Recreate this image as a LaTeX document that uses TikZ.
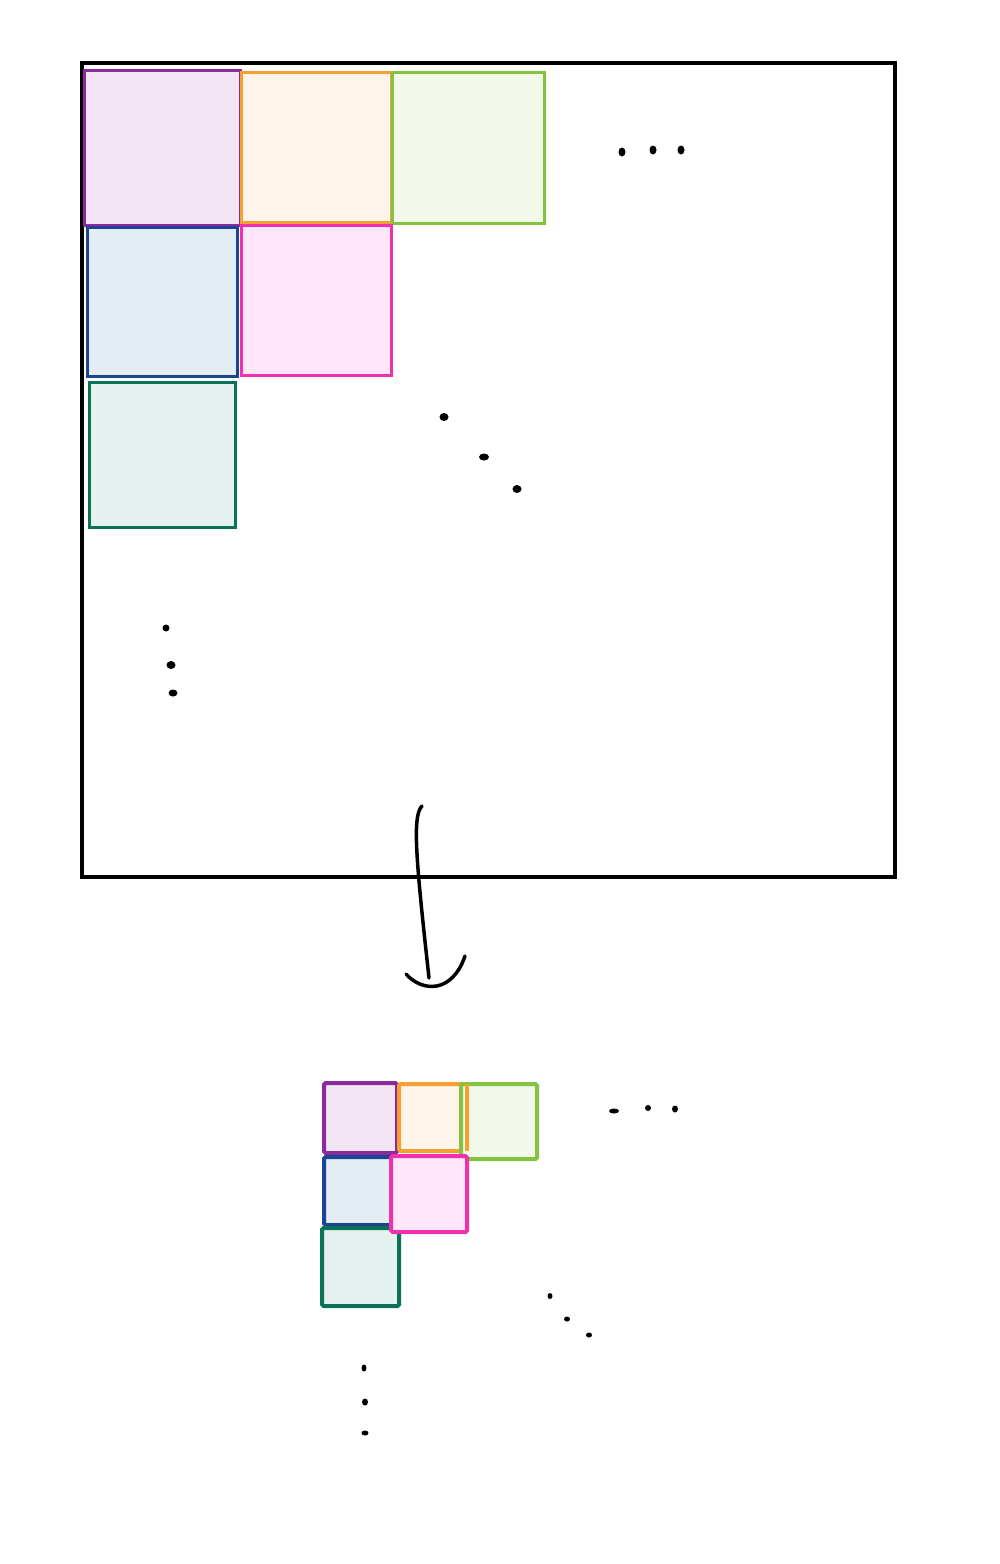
\documentclass[tikz,border=0pt]{standalone}
\usepackage{xcolor}
\definecolor{purpleline}{HTML}{8B2A9B}\definecolor{purplefill}{HTML}{F2E6F4}
\definecolor{orangeline}{HTML}{F5A030}\definecolor{orangefill}{HTML}{FEF4EA}
\definecolor{greenline}{HTML}{82C341}\definecolor{greenfill}{HTML}{F2F8EA}
\definecolor{blueline}{HTML}{1A4593}\definecolor{bluefill}{HTML}{E4ECF4}
\definecolor{pinkline}{HTML}{F030B0}\definecolor{pinkfill}{HTML}{FFE6F8}
\definecolor{tealline}{HTML}{0B7355}\definecolor{tealfill}{HTML}{E4F1EE}

\begin{document}
\begin{tikzpicture}[
            x=0.5pt, y=-0.5pt,
            Block/.style={draw, anchor=north west, inner sep=0pt, outer sep=0pt, line width=1.5pt},
            SmallBlock/.style={Block, line width=2pt, rounded corners=0.8pt},
            Dot/.style={fill=black, draw=none},
            ]
            \useasboundingbox (0,0) rectangle (1000,1564);

            % big matrix
            \node [draw, line width=2pt, anchor=north west, inner sep=0pt, outer sep=0pt, minimum width=406.5pt, minimum height=407pt] (frame) at (82,63) {};

            \node [Block, draw=purpleline, fill=purplefill, minimum width=78pt, minimum height=77.5pt] (p) at (84,70) {};
            \node [Block, draw=orangeline, fill=orangefill, minimum width=75pt, minimum height=75pt] (o) at (241,72) {};
            \node [Block, draw=greenline, fill=greenfill, minimum width=76pt, minimum height=75.5pt] (g) at (392,72) {};
            \node [Block, draw=blueline, fill=bluefill, minimum width=75pt, minimum height=74.5pt] (b) at (87,227) {};
            \node [Block, draw=pinkline, fill=pinkfill, minimum width=75pt, minimum height=75pt] (k) at (241,225) {};
            \node [Block, draw=tealline, fill=tealfill, minimum width=73pt, minimum height=72.5pt] (t) at (89,382) {};

            \fill[Dot] (622,152) ellipse (3.5 and 4.5);
            \fill[Dot] (653,150) ellipse (3.5 and 4.5);
            \fill[Dot] (681,150) ellipse (3.5 and 4.5);
            \fill[Dot] (444,417) ellipse (4.5 and 4);
            \fill[Dot] (484,457) ellipse (5 and 3.5);
            \fill[Dot] (517,489) ellipse (4.5 and 4);
            \fill[Dot] (166,628) ellipse (3.5 and 3.5);
            \fill[Dot] (171,665) ellipse (4.5 and 4);
            \fill[Dot] (173,693) ellipse (4.5 and 3.5);

            % hand drawn arrow
            \coordinate (from) at (422,806);
            \coordinate (to) at (429,978);
            \draw[line width=1.75pt, line cap=round] (from) .. controls (412,816) and (416,860) .. (to);
            \draw[line width=1.75pt, line cap=round] (406,974) .. controls (422,992) and (452,994) .. (465,956);

            % small matrix
            \node [SmallBlock, draw=purpleline, fill=purplefill, minimum width=36.5pt, minimum height=35pt] (sp) at (324,1083) {};
            \node [SmallBlock, draw=blueline, fill=bluefill, minimum width=36.5pt, minimum height=34pt] (sb) at (324,1157) {};
            \node [SmallBlock, draw=orangeline, fill=orangefill, minimum width=34pt, minimum height=33.5pt] (so) at (399,1084) {};
            \node [SmallBlock, draw=greenline, fill=greenfill, minimum width=38pt, minimum height=37.5pt] (sg) at (461,1084) {};
            \draw[orangeline, line width=2pt] (so.north east) -- (so.south east);
            \node [SmallBlock, draw=tealline, fill=tealfill, minimum width=38.5pt, minimum height=39pt] (st) at (322,1228) {};
            \node [SmallBlock, draw=pinkline, fill=pinkfill, minimum width=38pt, minimum height=38pt] (sk) at (391,1156) {};

            \fill[Dot] (614,1111) ellipse (5 and 2.5);
            \fill[Dot] (648,1108) ellipse (3 and 3);
            \fill[Dot] (675,1109) ellipse (3 and 3.5);
            \fill[Dot] (550,1296) ellipse (2.5 and 3);
            \fill[Dot] (567,1319) ellipse (3 and 2.5);
            \fill[Dot] (589,1335) ellipse (3 and 2.5);
            \fill[Dot] (364,1368) ellipse (2.5 and 3.5);
            \fill[Dot] (365,1402) ellipse (3 and 3.5);
            \fill[Dot] (365,1433) ellipse (3.5 and 2.5);

        \end{tikzpicture}
\end{document}
